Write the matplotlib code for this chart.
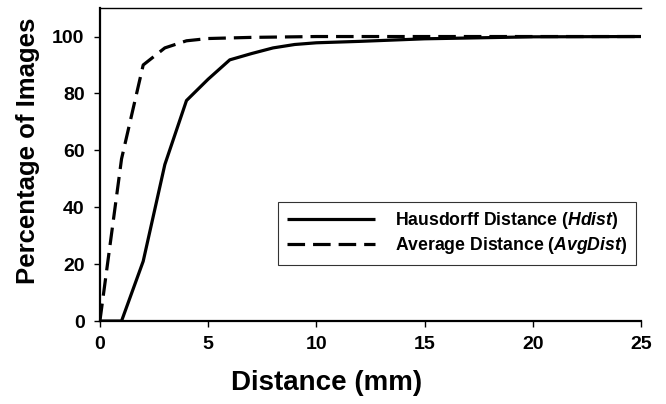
import matplotlib.pyplot as plt

plt.rcParams['font.family'] = ['Liberation Sans', 'DejaVu Sans']
plt.rcParams['font.weight'] = 'bold'
plt.rcParams['mathtext.fontset'] = 'custom'
plt.rcParams['mathtext.it'] = 'Liberation Sans:italic:bold'
plt.rcParams['mathtext.bf'] = 'Liberation Sans:bold'

# distance in mm
dist = [0, 1, 2, 3, 4, 5, 6, 7, 8, 9, 10, 12, 15, 20, 25]
hdist = [0, 0, 21, 55, 77.5, 85, 91.8, 94, 96, 97.2, 97.8, 98.3, 99.2, 99.9, 100]
avgdist = [0, 57, 90, 96, 98.5, 99.3, 99.5, 99.7, 99.8, 99.9, 100, 100, 100, 100, 100]

fig = plt.figure(figsize=(6.66, 4.04), dpi=100)
ax = fig.add_axes([0.150, 0.2054, 0.8125, 0.7746])

ax.plot(dist, hdist, color='black', lw=2.3, solid_capstyle='butt',
        label='Hausdorff Distance ($\\bf{\\it{Hdist}}$)')
ax.plot(dist, avgdist, color='black', lw=2.3, dashes=(5.5, 2.5),
        label='Average Distance ($\\bf{\\it{AvgDist}}$)')

ax.set_xlim(0, 25)
ax.set_ylim(0, 110)
ax.set_xticks([0, 5, 10, 15, 20, 25])
ax.set_yticks([0, 20, 40, 60, 80, 100])
ax.tick_params(labelsize=14, width=1, length=4, direction='out', pad=7)
for lab in ax.get_xticklabels() + ax.get_yticklabels():
    lab.set_fontweight('bold')

ax.spines['right'].set_visible(False)
ax.spines['top'].set_linewidth(1)
ax.spines['left'].set_linewidth(1.6)
ax.spines['bottom'].set_linewidth(1.6)

ax.set_xlabel('Distance (mm)', fontsize=20, fontweight='bold', va='center')
ax.set_ylabel('Percentage of Images', fontsize=18.5, fontweight='bold', va='center')
ax.xaxis.set_label_coords(0.418, -0.198)
ax.yaxis.set_label_coords(-0.133, 0.543)

leg = ax.legend(loc='lower right', bbox_to_anchor=(0.99, 0.18), fontsize=12.7,
                frameon=True, fancybox=False, edgecolor='black', handlelength=5.0,
                borderpad=0.5, handletextpad=1.1, labelspacing=0.2, borderaxespad=0)
leg.get_frame().set_linewidth(0.8)
for t in leg.get_texts():
    t.set_fontweight('bold')

fig.savefig('out.png', dpi=100)
